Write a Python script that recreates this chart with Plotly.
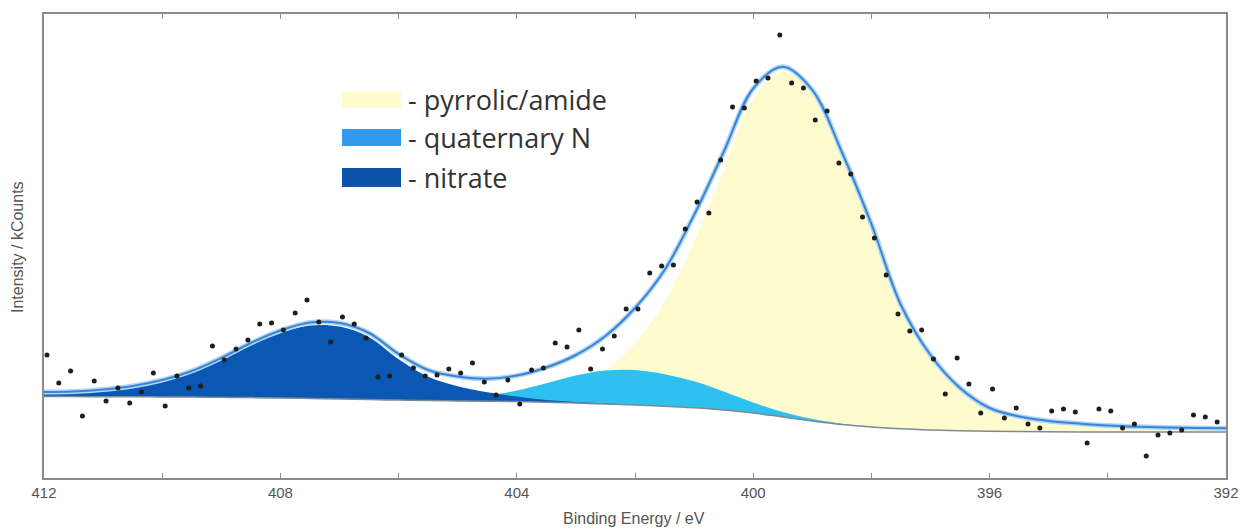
import numpy as np
import plotly.graph_objects as go

# ---- measured N 1s spectrum (kCounts) on the 0.2 eV acquisition grid ----
BE_START = 411.95
BE_STEP = 0.2
counts = [
    1.23, 0.95, 1.07, 0.62, 0.97, 0.77, 0.90, 0.75, 0.86, 1.05,
    0.72, 1.02, 0.90, 0.92, 1.32, 1.18, 1.29, 1.38, 1.54, 1.55,
    1.48, 1.65, 1.78, 1.56, 1.36, 1.61, 1.54, 1.40, 1.01, 1.02,
    1.23, 1.10, 1.02, 1.03, 1.09, 1.05, 1.15, 0.96, 0.83, 0.98,
    0.74, 1.08, 1.10, 1.35, 1.31, 1.48, 1.09, 1.29, 1.42, 1.69,
    1.69, 2.05, 2.12, 2.13, 2.49, 2.76, 2.65, 3.18, 3.71, 3.70,
    3.97, 4.00, 4.43, 3.95, 3.90, 3.58, 3.67, 3.15, 3.04, 2.61,
    2.40, 2.03, 1.64, 1.47, 1.48, 1.19, 0.84, 1.20, 0.94, 0.65,
    0.89, 0.60, 0.70, 0.54, 0.50, 0.67, 0.69, 0.66, 0.35, 0.69,
    0.67, 0.50, 0.54, 0.22, 0.43, 0.45, 0.48, 0.63, 0.61, 0.56,
]
be_data = np.round(BE_START - BE_STEP * np.arange(len(counts)), 2)

# ---- fitted model sampled every 0.5 eV from 412 to 392 eV ----
be_fit = np.linspace(412, 392, 41)
background = [
    0.815, 0.814, 0.813, 0.812, 0.811, 0.810, 0.807, 0.804, 0.800, 0.795,
    0.790, 0.784, 0.779, 0.774, 0.771, 0.768, 0.764, 0.757, 0.750, 0.740,
    0.730, 0.718, 0.702, 0.680, 0.650, 0.610, 0.570, 0.535, 0.510, 0.492,
    0.480, 0.472, 0.467, 0.464, 0.462, 0.461, 0.460, 0.460, 0.460, 0.460,
    0.460,
]
nitrate = [
    0.033, 0.038, 0.058, 0.093, 0.152, 0.241, 0.372, 0.522, 0.648, 0.729,
    0.724, 0.624, 0.409, 0.238, 0.147, 0.090, 0.050, 0.022, 0.010, 0.004,
    0.002, 0.001, 0, 0, 0, 0, 0, 0, 0, 0,
    0, 0, 0, 0, 0, 0, 0, 0, 0, 0,
    0,
]
quaternary = [
    0, 0, 0, 0, 0, 0, 0, 0, 0, 0,
    0, 0, 0.002, 0.008, 0.022, 0.055, 0.110, 0.190, 0.275, 0.335,
    0.350, 0.320, 0.265, 0.185, 0.105, 0.050, 0.020, 0.008, 0.003, 0.001,
    0, 0, 0, 0, 0, 0, 0, 0, 0, 0,
    0,
]
pyrrolic = [
    0.012, 0.013, 0.014, 0.015, 0.017, 0.019, 0.021, 0.024, 0.027, 0.031,
    0.036, 0.042, 0.050, 0.060, 0.075, 0.080, 0.100, 0.136, 0.195, 0.341,
    0.618, 1.041, 1.663, 2.395, 3.140, 3.453, 3.290, 2.717, 2.027, 1.237,
    0.750, 0.428, 0.233, 0.151, 0.108, 0.084, 0.065, 0.053, 0.045, 0.040,
    0.037,
]

x_tick_vals = [412, 410, 408, 406, 404, 402, 400, 398, 396, 394, 392]
x_tick_text = ["412", "", "408", "", "404", "", "400", "", "396", "", "392"]

legend_labels = ["- pyrrolic/amide", "- quaternary N", "- nitrate"]
legend_colors = ["#fefbcf", "#3399ee", "#0a52aa"]

bg = np.array(background)
envelope = bg + np.array(nitrate) + np.array(quaternary) + np.array(pyrrolic)

fig = go.Figure()
spline = dict(shape="spline", smoothing=1.0)

# component areas, each filled from the background up to background + component
for comp, color in [(pyrrolic, "#fefbcf"), (quaternary, "#2ec0ef"), (nitrate, "#0a57b4")]:
    fig.add_trace(go.Scatter(x=be_fit, y=bg, mode="lines",
                             line=dict(width=0, **spline), showlegend=False, hoverinfo="skip"))
    fig.add_trace(go.Scatter(x=be_fit, y=bg + np.array(comp), mode="lines", fill="tonexty",
                             fillcolor=color, line=dict(width=0, **spline),
                             showlegend=False, hoverinfo="skip"))

# background line
fig.add_trace(go.Scatter(x=be_fit, y=bg, mode="lines",
                         line=dict(color="#7d8a96", width=1.5, **spline),
                         showlegend=False, hoverinfo="skip"))

# fitted envelope with a light halo
fig.add_trace(go.Scatter(x=be_fit, y=envelope, mode="lines",
                         line=dict(color="#acd8f6", width=5, **spline),
                         showlegend=False, hoverinfo="skip"))
fig.add_trace(go.Scatter(x=be_fit, y=envelope, mode="lines",
                         line=dict(color="#3f83d6", width=2, **spline),
                         showlegend=False, hoverinfo="skip"))

# measured points
fig.add_trace(go.Scatter(x=be_data, y=counts, mode="markers",
                         marker=dict(color="#1e1e1e", size=5),
                         showlegend=False))

# hand-drawn legend
PW, PH = 1182.0, 464.0  # plot area size in px
def px(xp):
    return (xp - 44) / PW
def py(yp):
    return (478 - yp) / PH

swatch_rows = [(91.5, 107.5), (129.0, 146.0), (168.0, 187.0)]
shapes = []
annotations = []
for (y0, y1), label, color in zip(swatch_rows, legend_labels, legend_colors):
    shapes.append(dict(type="rect", xref="paper", yref="paper",
                       x0=px(342), x1=px(401), y0=py(y1), y1=py(y0),
                       fillcolor=color, line=dict(width=0)))
    annotations.append(dict(xref="paper", yref="paper", x=px(406), y=py((y0 + y1) / 2),
                            text=label, showarrow=False, xanchor="left", yanchor="middle",
                            font=dict(family="Open Sans", size=27, color="#333333")))

annotations.append(dict(xref="paper", yref="paper", x=px(634), y=py(518),
                        text="Binding Energy / eV", showarrow=False,
                        xanchor="center", yanchor="middle",
                        font=dict(family="Liberation Sans", size=16, color="#555555")))
annotations.append(dict(xref="paper", yref="paper", x=px(17), y=py(247),
                        text="Intensity / kCounts", showarrow=False, textangle=-90,
                        xanchor="center", yanchor="middle",
                        font=dict(family="Liberation Sans", size=16, color="#555555")))

fig.update_layout(
    width=1241, height=528, autosize=False,
    margin=dict(l=44, r=15, t=14, b=50, pad=0),
    paper_bgcolor="white", plot_bgcolor="white",
    shapes=shapes, annotations=annotations,
    xaxis=dict(range=[412, 392], showgrid=False, zeroline=False, automargin=False,
               showline=True, linecolor="#8c8c8c", linewidth=2, mirror="ticks",
               ticks="inside", ticklen=5, tickwidth=1, tickcolor="#8c8c8c",
               tickvals=x_tick_vals, ticktext=x_tick_text,
               tickfont=dict(family="Liberation Sans", size=15, color="#555555")),
    yaxis=dict(range=[0, 4.64], showgrid=False, zeroline=False, automargin=False,
               showline=True, linecolor="#8c8c8c", linewidth=2, mirror=True,
               ticks="", showticklabels=False),
)

fig.write_html("out.html")
